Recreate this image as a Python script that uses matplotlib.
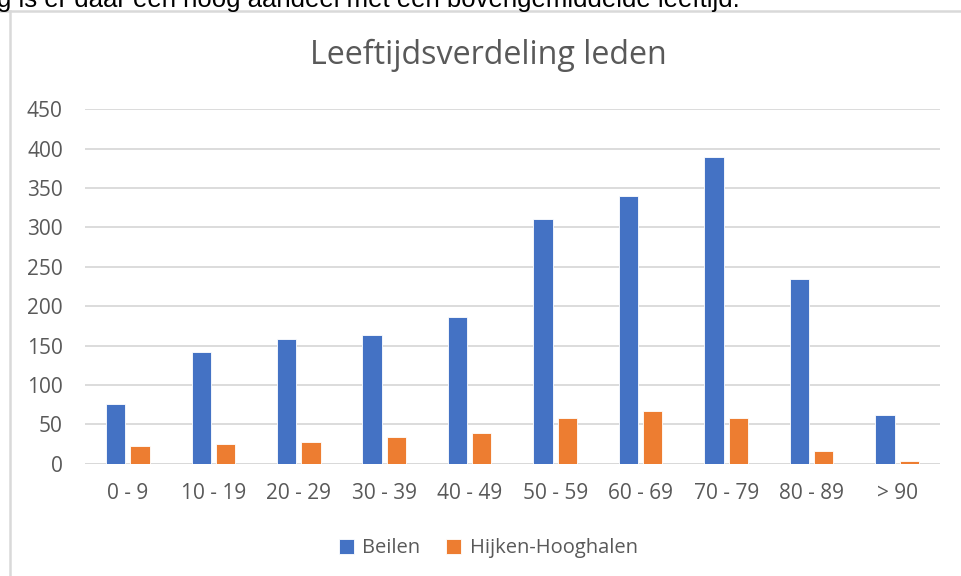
import numpy as np
import matplotlib.pyplot as plt
from matplotlib.lines import Line2D

# Data
age_groups = ['0 - 9', '10 - 19', '20 - 29', '30 - 39', '40 - 49',
              '50 - 59', '60 - 69', '70 - 79', '80 - 89', '> 90']
beilen = [76, 142, 158, 164, 186, 311, 340, 390, 235, 62]
hijken_hooghalen = [23, 25, 28, 34, 39, 58, 67, 58, 16, 4]
y_ticks = [0, 50, 100, 150, 200, 250, 300, 350, 400, 450]

BLUE = '#4472C4'
ORANGE = '#ED7D31'
GRID = '#d9d9d9'
TEXT = '#595959'

plt.rcParams['font.family'] = ['Open Sans', 'DejaVu Sans']

fig = plt.figure(figsize=(9.61, 5.76), dpi=100)
ax = fig.add_axes([0.0885, 0.195, 0.8895, 0.6152])

x = np.arange(len(age_groups))
w = 0.225
ax.bar(x - 0.142, beilen, width=w, color=BLUE, edgecolor='white',
       linewidth=0.6, label='Beilen', zorder=3)
ax.bar(x + 0.142, hijken_hooghalen, width=w, color=ORANGE, edgecolor='white',
       linewidth=0.6, label='Hijken-Hooghalen', zorder=3)

ax.set_xlim(-0.5, len(age_groups) - 0.5)
ax.set_ylim(0, 450)
ax.set_yticks(y_ticks)
ax.set_xticks(x)
ax.set_xticklabels(age_groups)
ax.yaxis.grid(True, color=GRID, linewidth=1.3, zorder=0)
for s in ax.spines.values():
    s.set_visible(False)
ax.axhline(0, color=GRID, linewidth=1.3, zorder=1)
ax.tick_params(axis='both', length=0, labelsize=15, colors=TEXT)
ax.tick_params(axis='y', pad=16)
ax.tick_params(axis='x', pad=14)

fig.text(0.508, 0.903, 'Leeftijdsverdeling leden', ha='center', va='center',
         fontsize=23.2, color=TEXT)

leg = fig.legend(loc='center', bbox_to_anchor=(0.508, 0.048), ncol=2,
                 frameon=False, fontsize=14.5, handlelength=0.75,
                 handleheight=0.75, handletextpad=0.4, columnspacing=1.3)
for t in leg.get_texts():
    t.set_color(TEXT)

# Surrounding border and cut-off sentence above the chart
fig.add_artist(Line2D([0, 1], [1 - 11 / 576, 1 - 11 / 576], color=GRID,
                      linewidth=1.8, transform=fig.transFigure))
fig.add_artist(Line2D([9.5 / 961, 9.5 / 961], [0, 1 - 11 / 576], color=GRID,
                      linewidth=1.8, transform=fig.transFigure))
fig.text(-0.024, 1 - 6.5 / 576,
         'ing is er daar een hoog aandeel met een bovengemiddelde leeftijd.',
         ha='left', va='baseline', fontsize=18.5, color='black',
         family=['Liberation Sans', 'DejaVu Sans'])

fig.savefig('out.png', dpi=100)
